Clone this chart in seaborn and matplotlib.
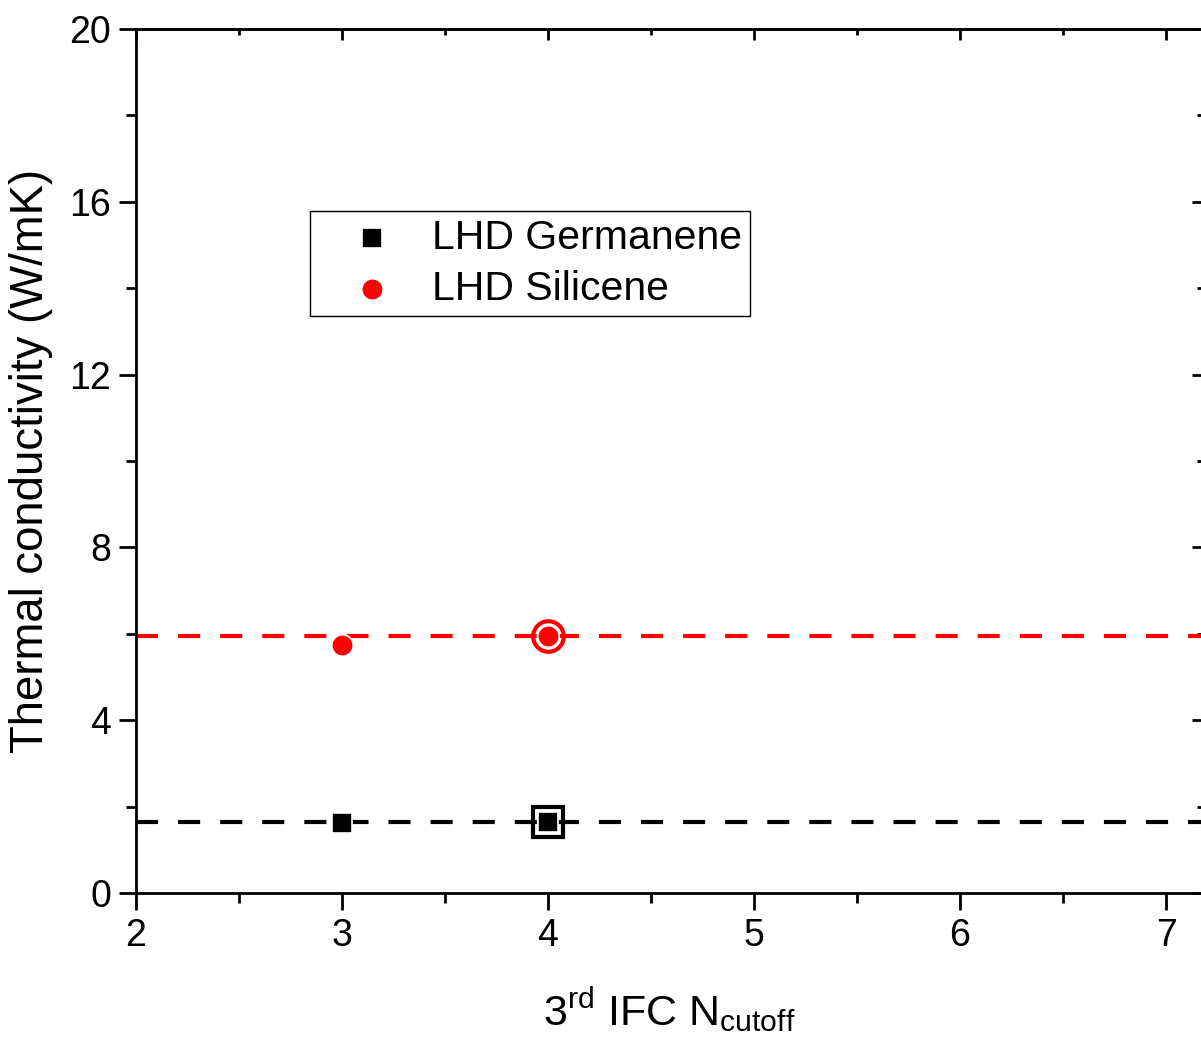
import numpy as np
import pandas as pd
import seaborn as sns
import matplotlib
matplotlib.use('Agg')
import matplotlib.pyplot as plt
from matplotlib.ticker import MultipleLocator

# data
n_cutoff = [3, 4]
germanene = [1.62, 1.65]
silicene = [5.75, 5.95]
conv_n = 4                # converged cutoff (circled points)
germanene_conv = 1.65
silicene_conv = 5.95

sns.set_style('ticks')
plt.rcParams['font.family'] = ['Liberation Sans', 'DejaVu Sans']
plt.rcParams['mathtext.fontset'] = 'custom'
plt.rcParams['mathtext.rm'] = 'Liberation Sans'
plt.rcParams['mathtext.default'] = 'regular'
plt.rcParams['text.color'] = 'black'
plt.rcParams['axes.labelcolor'] = 'black'
plt.rcParams['xtick.color'] = 'black'
plt.rcParams['ytick.color'] = 'black'

df = pd.DataFrame({'N': n_cutoff * 2,
                   'k': germanene + silicene,
                   'mat': ['LHD Germanene'] * 2 + ['LHD Silicene'] * 2})

fig = plt.figure(figsize=(12.01, 10.45), dpi=100)
ax = fig.add_axes([136 / 1201, 152 / 1045, 1067 / 1201, 864 / 1045])

# reference lines (converged values)
dash = dict(linestyle=(0, (5.3, 4.8)), linewidth=3, zorder=1)
ax.axhline(germanene_conv, color='black', **dash)
ax.axhline(silicene_conv, color='red', **dash)

g = df[df.mat == 'LHD Germanene']
s = df[df.mat == 'LHD Silicene']
sns.scatterplot(data=g, x='N', y='k', marker='s', color='black', s=200,
                edgecolor='white', linewidth=1.2, label='LHD Germanene', ax=ax, zorder=3)
sns.scatterplot(data=s, x='N', y='k', marker='o', color='red', s=240,
                edgecolor='white', linewidth=1.2, label='LHD Silicene', ax=ax, zorder=3)

# open rings around the converged points
ax.plot([conv_n], [g[g.N == conv_n].k.iloc[0]], marker='s', ms=21.5, mfc='none',
        mec='black', mew=3, linestyle='none', zorder=4)
ax.plot([conv_n], [s[s.N == conv_n].k.iloc[0]], marker='o', ms=22, mfc='none',
        mec='red', mew=3, linestyle='none', zorder=4)

ax.set_xlim(2, 2 + 1067 / 206)
ax.set_ylim(0, 20)
ax.xaxis.set_major_locator(MultipleLocator(1))
ax.xaxis.set_minor_locator(MultipleLocator(0.5))
ax.yaxis.set_major_locator(MultipleLocator(4))
ax.yaxis.set_minor_locator(MultipleLocator(2))

for sp in ax.spines.values():
    sp.set_linewidth(2)
    sp.set_color('black')
ax.spines['right'].set_visible(False)

ax.tick_params(which='major', direction='out', length=12, width=2, labelsize=27,
               colors='black', pad=6)
ax.tick_params(which='minor', direction='out', length=7, width=2)

# inward ticks on top and right
top = ax.secondary_xaxis('top')
top.xaxis.set_major_locator(MultipleLocator(1))
top.xaxis.set_minor_locator(MultipleLocator(0.5))
top.tick_params(which='major', direction='in', length=8, width=2, labeltop=False)
top.tick_params(which='minor', direction='in', length=4.5, width=2)
top.spines['top'].set_linewidth(2)
right = ax.secondary_yaxis('right')
right.yaxis.set_major_locator(MultipleLocator(4))
right.yaxis.set_minor_locator(MultipleLocator(2))
right.tick_params(which='major', direction='in', length=8, width=2, labelright=False)
right.tick_params(which='minor', direction='in', length=4.5, width=2)
right.spines['right'].set_linewidth(2)

ax.set_xlabel(r'3$^{rd}$ IFC N$_{cutoff}$', fontsize=31, labelpad=23)
ax.set_ylabel('Thermal conductivity (W/mK)', fontsize=32.8, labelpad=12)

leg = ax.legend(loc='upper left', bbox_to_anchor=(0.163, 0.789), fontsize=29.5,
                frameon=True, fancybox=False, edgecolor='black', framealpha=1,
                handlelength=2.63, handletextpad=0.17, labelspacing=0.32,
                borderpad=0.19, borderaxespad=0, markerscale=1.0)
leg.get_frame().set_linewidth(1)

fig.savefig('out.png', dpi=100, facecolor='white')
